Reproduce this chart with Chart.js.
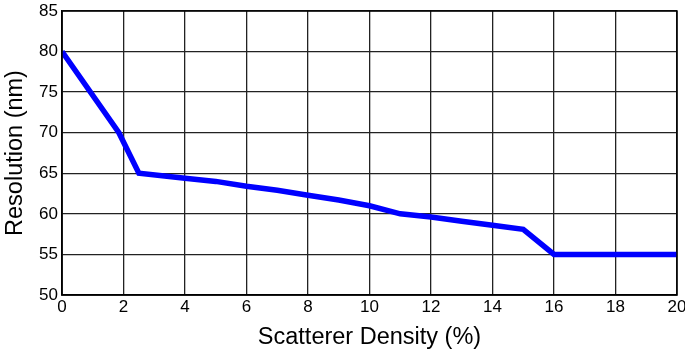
<!DOCTYPE html>
<html><head><meta charset="utf-8">
<script src="https://cdn.jsdelivr.net/npm/chart.js@4"></script>
<style>html,body{margin:0;padding:0;background:#fff}#wrap{width:685px;height:354px}</style>
</head><body><div id="wrap"><canvas id="c" width="685" height="354"></canvas></div>
<script>
const densities = [0, 1.85, 2.5, 4, 5, 6, 7, 8, 9, 10, 11, 12, 13, 14, 15, 16, 20];
const resolution = [80, 70, 65, 64.4, 64, 63.4, 62.9, 62.3, 61.7, 61, 60, 59.6, 59.1, 58.6, 58.1, 55, 55];
const xTicks = [0, 2, 4, 6, 8, 10, 12, 14, 16, 18, 20];
const yTicks = [50, 55, 60, 65, 70, 75, 80, 85];

const frame = {
  id: 'frame',
  afterDatasetsDraw(chart) {
    const a = chart.chartArea, ctx = chart.ctx;
    ctx.save();
    ctx.strokeStyle = '#000';
    ctx.lineWidth = 1.5;
    ctx.strokeRect(a.left, a.top, a.right - a.left, a.bottom - a.top);
    ctx.restore();
  }
};

new Chart(document.getElementById('c'), {
  type: 'line',
  data: {
    datasets: [{
      data: densities.map((x, i) => ({x, y: resolution[i]})),
      borderColor: '#0000ff',
      borderWidth: 5.5,
      pointRadius: 0,
      tension: 0,
      fill: false
    }]
  },
  options: {
    responsive: false,
    animation: false,
    layout: {padding: {top: 11, right: 8, left: 0, bottom: 0}},
    plugins: {legend: {display: false}, tooltip: {enabled: false}},
    scales: {
      x: {
        type: 'linear', min: 0, max: 20,
        afterBuildTicks: s => { s.ticks = xTicks.map(v => ({value: v})); },
        afterFit: s => { s.height = 59; s.paddingLeft = 0; s.paddingRight = 0; },
        grid: {color: '#222', lineWidth: 1.3, drawTicks: false},
        border: {color: '#000', width: 1.5},
        ticks: {color: '#000', padding: 2, maxRotation: 0, font: {family: 'Liberation Sans, Arial', size: 17}},
        title: {display: true, text: 'Scatterer Density (%)', color: '#000', padding: {top: 0, bottom: 2}, font: {family: 'Liberation Sans, Arial', size: 23.5}}
      },
      y: {
        type: 'linear', min: 50, max: 85,
        afterBuildTicks: s => { s.ticks = yTicks.map(v => ({value: v})); },
        afterFit: s => { s.width = 62; s.paddingTop = 0; s.paddingBottom = 0; },
        grid: {color: '#222', lineWidth: 1.3, drawTicks: false},
        border: {color: '#000', width: 1.5},
        ticks: {color: '#000', padding: 4, font: {family: 'Liberation Sans, Arial', size: 17}},
        title: {display: true, text: 'Resolution (nm)', color: '#000', padding: {top: 1, bottom: 0}, font: {family: 'Liberation Sans, Arial', size: 23.5}}
      }
    }
  },
  plugins: [frame]
});
</script></body></html>
